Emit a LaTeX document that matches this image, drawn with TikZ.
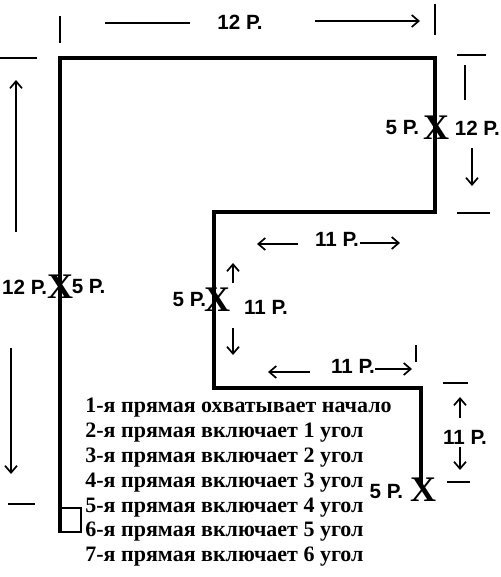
\documentclass[tikz,border=0pt]{standalone}
\usepackage{fontspec}
\setmainfont{Liberation Serif}
\setsansfont{Liberation Sans}
\usetikzlibrary{arrows.meta,positioning}

\begin{document}
\begin{tikzpicture}[x=0.5pt, y=-0.5pt,
    outline/.style={line width=1.6pt, line join=miter},
    dim/.style={line width=0.85pt},
    arrow/.style={-{Straight Barb[length=3.5pt,width=6pt]}, line width=0.85pt},
    rows/.style={font=\sffamily\bfseries\fontsize{10.3}{11}\selectfont, inner sep=0pt},
    cross/.style={font=\bfseries\fontsize{18}{18}\selectfont, inner sep=0pt},
    note/.style={font=\bfseries\fontsize{11}{12}\selectfont, anchor=west, inner sep=0pt}
]
    \useasboundingbox (0,0) rectangle (500,577);

    % Outline of the piece
    \coordinate (start) at (60,533);
    \coordinate (c1) at (60,58);
    \coordinate (c2) at (435,58);
    \coordinate (c3) at (435,212);
    \coordinate (c4) at (214,212);
    \coordinate (c5) at (214,388);
    \coordinate (c6) at (421,388);
    \coordinate (end) at (421,486);
    \draw[outline] (start) -- (c1) -- (c2) -- (c3) -- (c4) -- (c5) -- (c6) -- (end);
    \node[draw, line width=0.8pt, minimum width=10pt, minimum height=12pt, anchor=south west, inner sep=0pt] (sq) at (start) {};

    % Crosses
    \node[cross] (x1) at (436,128) {X};
    \node[cross] (x2) at (60,287) {X};
    \node[cross] (x3) at (217,300) {X};
    \node[cross] (x4) at (423,490) {X};
    \node[rows, left=1.5pt of x1] {5 Р.};
    \node[rows, right=2.5pt of x1] {12 Р.};
    \node[rows, left=-0.5pt of x2] {12 Р.};
    \node[rows, right=-1pt of x2] {5 Р.};
    \node[rows, left=-1.5pt of x3] {5 Р.};
    \node[rows, left=3pt of x4, yshift=-1pt] {5 Р.};

    % Top
    \draw[dim] (60,16) -- (60,43);
    \draw[dim] (435,4) -- (435,35);
    \node[rows] (w12) at (240,22) {12 Р.};
    \draw[dim] (105,23) -- (190,23);
    \draw[arrow] (315,21) -- (420,21);

    % Left side
    \draw[dim] (0,58) -- (37,58);
    \draw[arrow] (16,232) -- (16,80);
    \draw[arrow] (11,348) -- (11,474);
    \draw[dim] (8,504) -- (35,504);

    % Right side, top
    \draw[dim] (457,55) -- (486,55);
    \draw[dim] (465,65) -- (465,100);
    \draw[arrow] (472,148) -- (472,186);
    \draw[dim] (457,213) -- (490,213);

    % Middle
    \node[rows] (m1) at (337,239) {11 Р.};
    \draw[arrow] (298,244) -- (257,244);
    \draw[arrow] (360,243) -- (400,243);
    \node[rows] (m2) at (266,307) {11 Р.};
    \draw[arrow] (233,283) -- (233,263);
    \draw[arrow] (233,328) -- (233,355);
    \node[rows] (m3) at (353,366) {11 Р.};
    \draw[arrow] (310,372) -- (268,372);
    \draw[arrow] (375,369) -- (412,369);
    \draw[dim] (416,345) -- (416,362);

    % Right side, bottom
    \draw[dim] (443,383) -- (468,383);
    \draw[arrow] (460,418) -- (460,397);
    \node[rows] (r1) at (465,437) {11 Р.};
    \draw[arrow] (460,447) -- (460,470);
    \draw[dim] (447,482) -- (470,482);

    % Notes
    \node[note] (n1) at (85,408) {1-я прямая охватывает начало};
    \node[note] (n2) at (85,433) {2-я прямая включает 1 угол};
    \node[note] (n3) at (85,458) {3-я прямая включает 2 угол};
    \node[note] (n4) at (85,483) {4-я прямая включает 3 угол};
    \node[note] (n5) at (85,508) {5-я прямая включает 4 угол};
    \node[note] (n6) at (85,532) {6-я прямая включает 5 угол};
    \node[note] (n7) at (85,557) {7-я прямая включает 6 угол};
\end{tikzpicture}
\end{document}
